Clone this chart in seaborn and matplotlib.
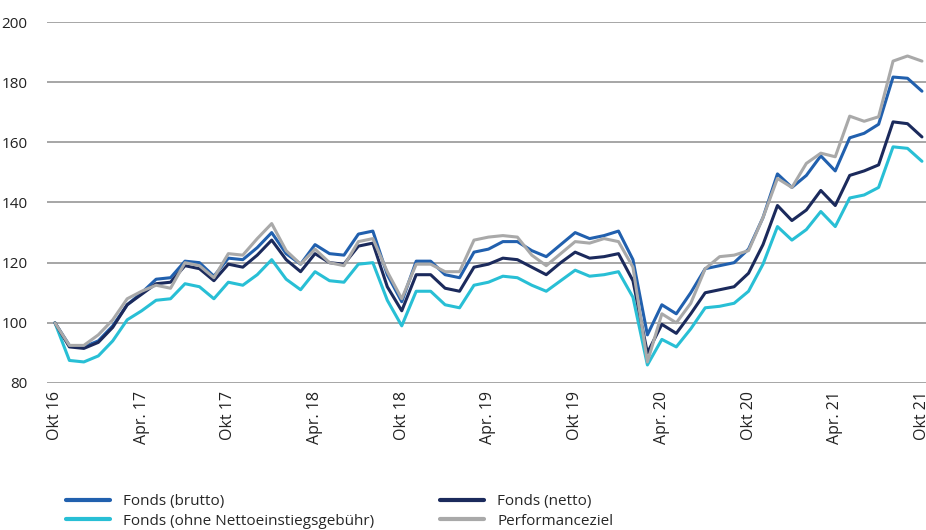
import numpy as np
import pandas as pd
import matplotlib
matplotlib.use("Agg")
import matplotlib.pyplot as plt
import seaborn as sns

tick_labels = ["Okt 16", "Apr. 17", "Okt 17", "Apr. 18", "Okt 18", "Apr. 19",
               "Okt 19", "Apr. 20", "Okt 20", "Apr. 21", "Okt 21"]

brutto = [100, 92.5, 92, 94, 99, 106, 110, 114.5, 115, 120.5,
          120, 115.5, 121.5, 121, 125, 130, 123, 119.5, 126, 123,
          122.5, 129.5, 130.5, 116, 107, 120.5, 120.5, 116, 115, 123.5,
          124.5, 127, 127, 124, 122, 126, 130, 128, 129, 130.5,
          121, 96, 106, 103, 110, 118, 119, 120, 124.5, 135,
          149.5, 145, 149, 155.5, 150.5, 161.5, 163, 166, 181.7, 181.3,
          177]
netto = [100, 92, 91.5, 93.5, 98.5, 106, 109.5, 113, 113.5, 119,
         118, 114, 119.5, 118.5, 122.5, 127.5, 121, 117, 123, 120,
         119.5, 125.5, 126.5, 112, 104, 116, 116, 111.5, 110.5, 118.5,
         119.5, 121.5, 121, 118.5, 116, 120, 123.5, 121.5, 122, 123,
         114, 90, 99.5, 96.5, 103, 110, 111, 112, 116.5, 126,
         139, 134, 137.5, 144, 139, 149, 150.5, 152.5, 166.8, 166.2,
         161.8]
ohne = [100, 87.5, 87, 89, 94, 101, 104, 107.5, 108, 113,
        112, 108, 113.5, 112.5, 116, 121, 114.5, 111, 117, 114,
        113.5, 119.5, 120, 107.5, 99, 110.5, 110.5, 106, 105, 112.5,
        113.5, 115.5, 115, 112.5, 110.5, 114, 117.5, 115.5, 116, 117,
        108.5, 86, 94.5, 92, 98, 105, 105.5, 106.5, 110.5, 119.5,
        132, 127.5, 131, 137, 132, 141.5, 142.5, 145, 158.5, 158,
        153.7]
perf = [100, 92.5, 92.5, 96, 101, 108, 110.5, 112.5, 111.5, 120,
        119, 115, 123, 122.5, 128, 133, 124, 119.5, 124.5, 120,
        119, 127, 128, 117, 108, 119.5, 119.5, 117, 117, 127.5,
        128.5, 129, 128.5, 122.5, 119, 123, 127, 126.5, 128, 127,
        118.5, 87, 103, 100, 106.5, 118, 122, 122.5, 124, 135,
        148, 145, 153, 156.4, 155.2, 168.7, 167, 168.5, 187, 188.7,
        187]

series_names = ["Fonds (brutto)", "Fonds (ohne Nettoeinstiegsgebühr)",
                "Fonds (netto)", "Performanceziel"]
series_values = [brutto, ohne, netto, perf]
colors = ["#2160ae", "#28bfd5", "#1b2a5c", "#a9a9a9"]

months = np.arange(len(brutto))
df = pd.concat([pd.DataFrame({"Monat": months, "Wert": v, "Serie": n})
                for n, v in zip(series_names, series_values)], ignore_index=True)

sns.set_theme(style="white")
plt.rcParams["font.family"] = ["Open Sans", "DejaVu Sans"]

fig = plt.figure(figsize=(9.26, 5.30), dpi=100)
ax = fig.add_axes([47/926, 1 - 383/530, 879/926, 361/530])

sns.lineplot(data=df, x="Monat", y="Wert", hue="Serie", hue_order=series_names,
             palette=dict(zip(series_names, colors)), linewidth=2.2, ax=ax,
             legend=True)

ax.set_xlim(-0.55, 60.28)
ax.set_ylim(80, 200)
ax.set_yticks(np.arange(80, 201, 20))
ax.set_xticks(np.arange(0, 61, 6))
ax.set_xticklabels(tick_labels, rotation=90, fontsize=11.5, color="#222222")
ax.tick_params(axis="y", labelsize=11, colors="#222222", length=0, pad=14)
ax.tick_params(axis="x", length=0, pad=6)
ax.yaxis.grid(True, color="#a6a6a6", linewidth=1.4)
ax.set_axisbelow(True)
for s in ax.spines.values():
    s.set_visible(False)
ax.set_xlabel("")
ax.set_ylabel("")

handles, labels = ax.get_legend_handles_labels()
ax.legend_.remove()
for h in handles:
    h.set_linewidth(3)
fig.legend(handles, labels, ncol=2, loc="upper left",
           bbox_to_anchor=(66/926, 1 - 494/530), frameon=False,
           fontsize=11, handlelength=2.9, handletextpad=0.85,
           columnspacing=4.3, labelspacing=0.3, borderaxespad=0,
           borderpad=0)

fig.savefig("out.png", dpi=100)
